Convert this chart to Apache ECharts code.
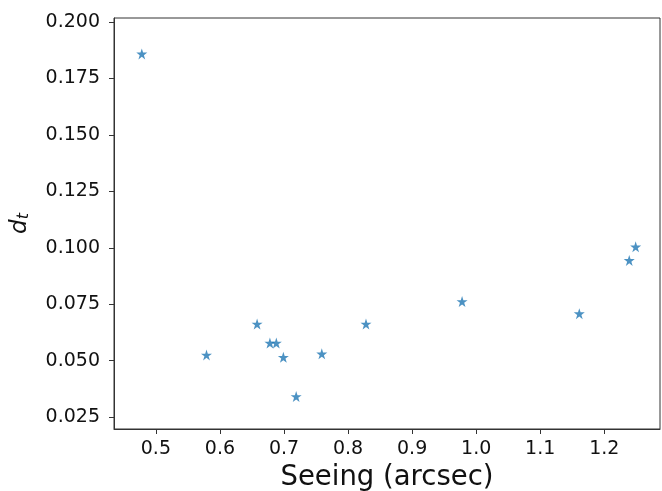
<!DOCTYPE html>
<html>
<head>
<meta charset="utf-8">
<script src="https://cdn.jsdelivr.net/npm/echarts@6/dist/echarts.min.js"></script>
<style>html,body{margin:0;padding:0;background:#fff}#c{width:662px;height:491px}</style>
</head>
<body>
<div id="c"></div>
<script>
const seeing = [0.478, 0.579, 0.658, 0.678, 0.688, 0.699, 0.719, 0.759, 0.828, 0.978, 1.161, 1.239, 1.249];
const dt = [0.1859, 0.0525, 0.0662, 0.0578, 0.0578, 0.0515, 0.0341, 0.0530, 0.0662, 0.0762, 0.0708, 0.0944, 0.1004];
const xTicks = [0.5, 0.6, 0.7, 0.8, 0.9, 1.0, 1.1, 1.2];
const yTicks = [0.025, 0.05, 0.075, 0.1, 0.125, 0.15, 0.175, 0.2];

const star = 'path://M50,0 L61.8,35.4 L100,35.4 L69.1,57.3 L80.9,92.7 L50,70.8 L19.1,92.7 L30.9,57.3 L0,35.4 L38.2,35.4 Z';
const font = 'DejaVu Sans';
const chart = echarts.init(document.getElementById('c'));
chart.setOption({
  animation: false,
  grid: {left: 114, right: 2, top: 18, bottom: 62, outerBoundsMode: 'none', containLabel: false, show: true, borderColor: '#333', borderWidth: 1, backgroundColor: 'transparent'},
  xAxis: {
    type: 'value', min: 0.4346, max: 1.287,
    name: 'Seeing (arcsec)', nameLocation: 'middle', nameGap: 33,
    nameTextStyle: {fontFamily: font, fontSize: 27.5, color: '#111'},
    axisLine: {show: true, onZero: false, lineStyle: {color: '#333'}},
    axisTick: {show: true, length: 5, customValues: xTicks, lineStyle: {color: '#333'}},
    axisLabel: {customValues: xTicks, fontFamily: font, fontSize: 19, color: '#111', margin: 11, formatter: v => v.toFixed(1)},
    splitLine: {show: false}
  },
  yAxis: {
    type: 'value', min: 0.0197, max: 0.2018,
    name: '{d|d}{t|t}', nameLocation: 'middle', nameGap: 82, nameRotate: 90,
    nameTextStyle: {rich: {
      d: {fontFamily: font, fontSize: 23, fontStyle: 'italic', color: '#111'},
      t: {fontFamily: font, fontSize: 16, fontStyle: 'italic', color: '#111', padding: [8, 0, 0, 0]}
    }},
    axisLine: {show: true, onZero: false, lineStyle: {color: '#333'}},
    axisTick: {show: true, length: 5, customValues: yTicks, lineStyle: {color: '#333'}},
    axisLabel: {customValues: yTicks, fontFamily: font, fontSize: 19, color: '#111', margin: 14, formatter: v => v.toFixed(3)},
    splitLine: {show: false}
  },
  series: [{
    type: 'scatter',
    data: seeing.map((x, i) => [x, dt[i]]),
    symbol: star, symbolSize: 11,
    itemStyle: {color: '#1f77b4'}
  }]
});
</script>
</body>
</html>
